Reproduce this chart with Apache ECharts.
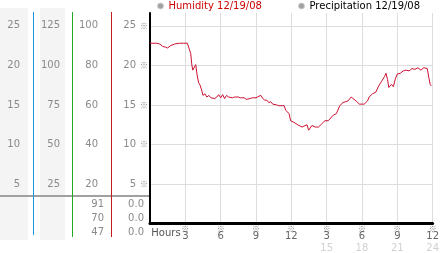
<!DOCTYPE html>
<html>
<head>
<meta charset="utf-8">
<script src="https://cdn.jsdelivr.net/npm/echarts@6/dist/echarts.min.js"></script>
<style>html,body{margin:0;padding:0;background:#fff}#c{width:442px;height:253px}</style>
</head>
<body>
<div id="c"></div>
<script>
// ---- data ----
const hours = [0,0.25,0.58,0.83,1.08,1.33,1.5,1.75,2.08,2.5,2.83,3.17,3.33,3.46,3.54,3.63,3.75,3.88,4.0,4.13,4.25,4.38,4.5,4.67,4.83,5.0,5.17,5.33,5.5,5.67,5.83,6.0,6.17,6.33,6.5,6.67,6.83,7.0,7.17,7.33,7.5,7.67,7.83,8.0,8.17,8.33,8.5,8.67,8.83,9.0,9.25,9.42,9.58,9.75,9.92,10.08,10.25,10.42,10.58,10.75,10.92,11.08,11.39,11.53,11.81,11.94,12.22,12.36,12.64,12.92,13.06,13.33,13.47,13.61,13.75,14.03,14.31,14.58,14.86,15.14,15.28,15.56,15.83,15.97,16.11,16.39,16.81,17.08,17.22,17.5,17.78,18.19,18.47,18.61,18.89,19.17,19.42,19.67,19.92,20.04,20.17,20.28,20.5,20.67,20.83,21.0,21.25,21.5,21.75,22.0,22.25,22.5,22.75,23.0,23.25,23.54,23.67,23.79,23.89];
const humidity = [22.8,22.8,22.8,22.7,22.4,22.3,22.2,22.5,22.7,22.8,22.8,22.8,22.8,21.5,20.2,19.4,19.6,20.1,18.8,17.8,17.5,16.9,16.2,16.4,16.0,16.2,15.9,16.1,15.8,16.0,16.3,15.9,16.3,15.8,16.2,16.0,16.1,15.9,16.0,15.8,16.0,15.9,15.8,15.9,15.7,15.8,15.8,15.9,15.8,15.9,16.1,16.2,15.8,15.6,15.6,15.3,15.4,15.1,15.3,15.0,14.9,14.7,14.9,14.3,13.9,13.0,12.8,12.6,12.4,12.2,12.0,12.5,11.8,11.8,12.4,12.2,12.2,12.6,13.0,13.0,13.25,13.7,13.9,14.1,14.9,15.3,15.5,16.0,16.2,15.5,15.1,15.1,15.5,16.0,16.4,16.6,17.4,18.0,18.6,19.0,18.2,17.2,17.6,17.3,18.3,18.9,19.0,19.3,19.4,19.3,19.6,19.5,19.7,19.4,19.7,19.6,18.5,17.6,17.4];
const xTopLabels = ['Hours','3','6','9','12','3','6','9','12'];
const xBottomLabels = ['','','','','','15','18','21','24'];
const currentValues = ['91','70','47'];
const precipValues = ['0.0','0.0','0.0'];
const seriesNames = ['Humidity 12/19/08','Precipitation 12/19/08'];

const FONT = 'DejaVu Sans';
const MARKFONT = 'Noto Sans CJK JP';
const GREY = '#8a8a8a';
const YMAX = 26.625;

const chart = echarts.init(document.getElementById('c'), null, {renderer:'canvas'});

function colAxis(offset, max, interval, margin){
  return {
    type:'value', position:'left', offset:offset, min:0, max:max, interval:interval,
    axisLine:{show:false}, axisTick:{show:false}, splitLine:{show:false},
    axisLabel:{margin:margin, color:GREY, fontFamily:FONT, fontSize:10,
      showMinLabel:false, showMaxLabel:false,
      formatter:function(v){ return (v>0 && v<=max-1e-6 && Math.abs(v/interval-Math.round(v/interval))<1e-6) ? String(v) : ''; }}
  };
}

const graphics = [];
graphics.push({type:'rect', left:0, top:8, shape:{width:28,height:232}, style:{fill:'#f4f4f4'}, z:-10});
graphics.push({type:'rect', left:40, top:8, shape:{width:25,height:232}, style:{fill:'#f4f4f4'}, z:-10});
graphics.push({type:'rect', left:0, top:195, shape:{width:149,height:2}, style:{fill:'#a0a0a0'}, z:50});
graphics.push({type:'rect', left:33, top:12, shape:{width:1,height:223}, style:{fill:'#2299dd'}, z:100});
graphics.push({type:'rect', left:72, top:12, shape:{width:1,height:225}, style:{fill:'#22aa22'}, z:100});
graphics.push({type:'rect', left:111, top:12, shape:{width:1,height:225}, style:{fill:'#c41c1c'}, z:100});
const rowY = [204,218,232];
currentValues.forEach((t,i)=>graphics.push({type:'text', x:104, y:rowY[i], style:{text:t, fill:GREY, font:'10px '+FONT, textAlign:'right', textVerticalAlign:'middle'}}));
precipValues.forEach((t,i)=>graphics.push({type:'text', x:144, y:rowY[i], style:{text:t, fill:GREY, font:'10px '+FONT, textAlign:'right', textVerticalAlign:'middle'}}));

const option = {
  animation:false,
  backgroundColor:'#fff',
  textStyle:{fontFamily:FONT},
  grid:{left:150, right:4, top:13, bottom:27, containLabel:false},
  legend:[
    {left:157, top:1, padding:0, itemWidth:6, itemHeight:6, icon:'circle', selectedMode:false,
     data:[{name:seriesNames[0], itemStyle:{color:'#a0a0a0', borderColor:'#d0d0d0', borderWidth:1}, textStyle:{color:'#cc0000'}}],
     textStyle:{fontFamily:FONT, fontSize:10}},
    {left:298, top:1, padding:0, itemWidth:6, itemHeight:6, icon:'circle', selectedMode:false,
     data:[{name:seriesNames[1], itemStyle:{color:'#a0a0a0', borderColor:'#d0d0d0', borderWidth:1}, textStyle:{color:'#000'}}],
     textStyle:{fontFamily:FONT, fontSize:10}}
  ],
  xAxis:{
    type:'value', min:0, max:24, interval:3,
    axisLine:{lineStyle:{color:'#000', width:3}},
    axisTick:{show:false},
    splitLine:{show:true, showMinLine:false, lineStyle:{color:'#dddddd', width:1}},
    axisLabel:{
      margin:2, showMinLabel:true, showMaxLabel:true,
      formatter:function(v){
        const i = Math.round(v/3);
        if(i===0) return '{h|'+xTopLabels[0]+'}';
        let s = '{m|※}\n{n|'+xTopLabels[i]+'}';
        if(xBottomLabels[i]) s += '\n{g|'+xBottomLabels[i]+'}';
        return s;
      },
      rich:{
        h:{fontFamily:FONT, fontSize:10, color:'#555', padding:[3,0,0,32], lineHeight:12},
        m:{fontFamily:MARKFONT, fontSize:8, color:'#888', lineHeight:6},
        n:{fontFamily:FONT, fontSize:10, color:'#666', lineHeight:10},
        g:{fontFamily:FONT, fontSize:10, color:'#d0d0d0', lineHeight:13}
      }
    }
  },
  yAxis:[
    {
      type:'value', position:'left', min:0, max:YMAX, interval:5,
      axisLine:{show:true, lineStyle:{color:'#000', width:2}},
      axisTick:{show:false},
      splitLine:{show:true, showMinLine:false, showMaxLine:false, lineStyle:{color:'#dddddd', width:1}},
      axisLabel:{margin:2, showMinLabel:false, showMaxLabel:false,
        formatter:function(v){ return (v>0 && v<=25) ? '{v|'+v+'}{m|※}' : ''; },
        rich:{ v:{fontFamily:FONT, fontSize:10, color:GREY, padding:[0,4,0,0]}, m:{fontFamily:MARKFONT, fontSize:8, color:'#888'} }
      }
    },
    colAxis(117, YMAX, 5, 13),
    colAxis(78, YMAX*5, 25, 12),
    colAxis(39, YMAX*4, 20, 13)
  ],
  graphic:graphics,
  series:[
    {name:seriesNames[0], type:'line', showSymbol:false, symbol:'none',
     data:hours.map((h,i)=>[h, humidity[i]]),
     lineStyle:{color:'#cc1133', width:1}, itemStyle:{color:'#cc1133'}},
    {name:seriesNames[1], type:'line', showSymbol:false, data:[], lineStyle:{color:'#000', width:1}}
  ]
};
chart.setOption(option);
</script>
</body>
</html>
